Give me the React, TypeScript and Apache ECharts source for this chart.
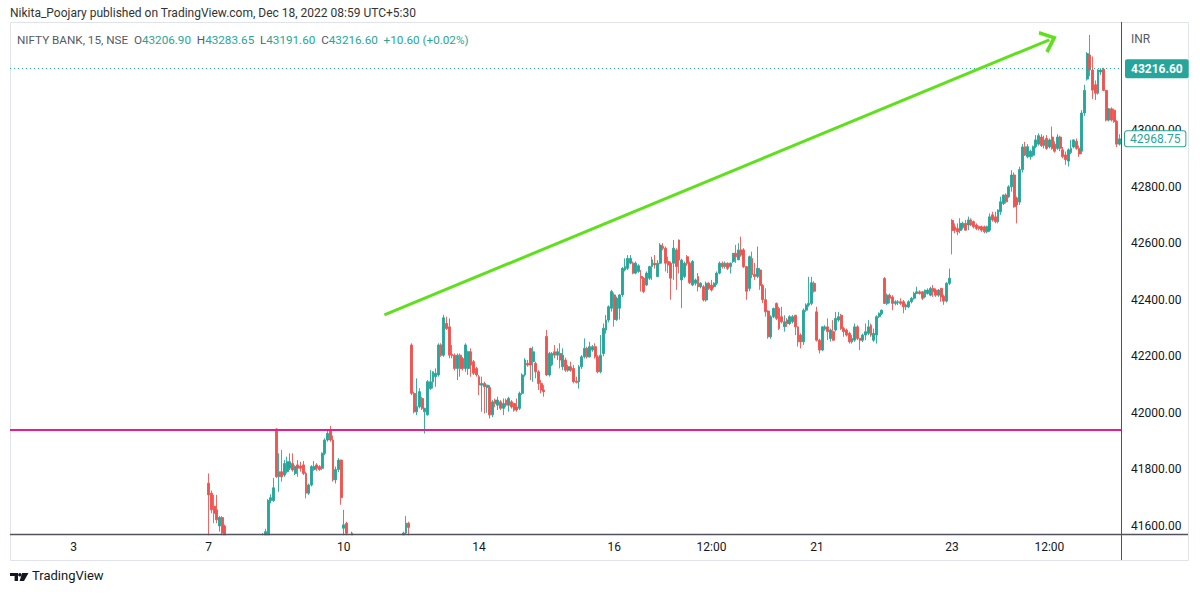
import React, { useEffect, useRef } from "react";
import * as echarts from "echarts";

type K = [number, number, number, number] | null; // [open, close, low, high]

// trading days shown on the axis (Nov 2022) and the 15-minute session slots
const tradingDays = ["2", "3", "4", "7", "9", "10", "11", "14", "15", "16", "17", "18", "21", "22", "23", "24", "25"];
const sessionSlots = ["09:15", "09:30", "09:45", "10:00", "10:15", "10:30", "10:45", "11:00", "11:15", "11:30", "11:45", "12:00", "12:15", "12:30", "12:45", "13:00", "13:15", "13:30", "13:45", "14:00", "14:15", "14:30", "14:45", "15:00", "15:15"];
const firstSlot = 2;
const slotCount = 411;
const tickMarks = ["3 09:15", "7 09:15", "10 09:15", "14 09:15", "16 09:15", "17 12:00", "21 09:15", "23 09:15", "24 12:00"];
const priceTicks = [41600, 41800, 42000, 42200, 42400, 42600, 42800, 43000];

// candles below the visible price range are null
const nov02: K[] = [];
const nov03: K[] = [];
const nov04: K[] = [];
const nov07: K[] = [
  [41751, 41710, 41560, 41786], [41716, 41657, 41645, 41725], [41670, 41645, 41610, 41710], [41657, 41622, 41610, 41710],
  [41600, 41630, 41580, 41635], [41630, 41575, 41550, 41635], [41600, 41565, 41540, 41605],
  null, null, null, null, null, null, null, null, null, null, null, null, null,
  [41530, 41560, 41500, 41575], [41540, 41580, 41520, 41590], [41560, 41690, 41540, 41695], [41690, 41700, 41680, 41712],
  [41690, 41735, 41685, 41770],
];
const nov09: K[] = [
  [41943, 41774, 41770, 41945], [41774, 41792, 41721, 41857], [41792, 41774, 41757, 41869], [41780, 41821, 41774, 41833],
  [41792, 41827, 41786, 41845], [41804, 41827, 41798, 41857], [41821, 41798, 41792, 41857], [41786, 41810, 41780, 41815],
  [41816, 41804, 41774, 41833], [41812, 41804, 41792, 41827], [41816, 41786, 41780, 41830], [41786, 41716, 41698, 41792],
  [41716, 41745, 41710, 41750], [41745, 41810, 41740, 41815], [41800, 41810, 41795, 41830], [41816, 41804, 41795, 41822],
  [41810, 41800, 41795, 41815], [41804, 41857, 41798, 41860], [41857, 41904, 41850, 41910], [41904, 41927, 41898, 41940],
  [41940, 41904, 41898, 41954], [41904, 41763, 41757, 41920], [41763, 41800, 41750, 41810], [41800, 41833, 41790, 41840],
  [41833, 41700, 41675, 41835],
];
const nov10: K[] = [
  [41592, 41604, 41560, 41657], [41610, 41574, 41540, 41615], null, [41560, 41575, 41540, 41580],
  null, null, null, null, null, null, null, null, null, null, null, null, null, null, null, null, null, null,
  [41540, 41575, 41530, 41580], [41575, 41610, 41570, 41635], [41610, 41595, 41560, 41615],
];
const nov11: K[] = [
  [42240, 42069, 42063, 42246], [42069, 42004, 41998, 42075], [42004, 42022, 41992, 42122], [42022, 42075, 42016, 42087],
  [42051, 42016, 42010, 42057], [42004, 42016, 41927, 42018], [41993, 42110, 41990, 42116], [42086, 42110, 42081, 42151],
  [42110, 42145, 42086, 42147], [42128, 42140, 42092, 42157], [42134, 42240, 42128, 42246], [42240, 42204, 42198, 42246],
  [42204, 42336, 42198, 42346], [42316, 42298, 42293, 42340], [42304, 42204, 42193, 42334], [42207, 42202, 42193, 42240],
  [42204, 42157, 42150, 42210], [42157, 42204, 42116, 42210], [42204, 42157, 42128, 42210], [42192, 42157, 42150, 42198],
  [42157, 42240, 42145, 42246], [42157, 42216, 42134, 42220], [42216, 42169, 42128, 42228], [42181, 42140, 42134, 42187],
  [42157, 42134, 42128, 42163],
];
const nov14: K[] = [
  [42128, 42098, 42063, 42134], [42098, 42104, 42004, 42128], [42104, 42092, 41998, 42110], [42090, 42098, 42000, 42100],
  [42090, 41993, 41980, 42098], [41993, 42039, 41985, 42045], [42045, 42033, 42020, 42050], [42027, 42045, 42010, 42057],
  [42039, 42016, 42010, 42045], [42016, 42033, 41992, 42051], [42045, 42027, 42020, 42050], [42027, 42051, 42004, 42057],
  [42039, 42021, 42015, 42045], [42033, 42010, 42004, 42036], [42021, 42010, 42004, 42051], [42016, 42069, 42010, 42075],
  [42069, 42134, 42063, 42140], [42134, 42187, 42128, 42193], [42175, 42169, 42163, 42187], [42228, 42169, 42116, 42230],
  [42181, 42216, 42110, 42234], [42175, 42145, 42122, 42181], [42145, 42104, 42081, 42151], [42104, 42081, 42069, 42116],
  [42081, 42075, 42057, 42098],
];
const nov15: K[] = [
  [42270, 42134, 42130, 42293], [42134, 42210, 42128, 42216], [42170, 42210, 42165, 42215], [42216, 42204, 42193, 42240],
  [42204, 42216, 42187, 42228], [42210, 42187, 42157, 42246], [42163, 42204, 42151, 42228], [42187, 42151, 42145, 42195],
  [42151, 42163, 42145, 42170], [42163, 42151, 42145, 42181], [42157, 42110, 42104, 42169], [42112, 42108, 42104, 42128],
  [42110, 42163, 42086, 42169], [42163, 42198, 42155, 42204], [42198, 42228, 42192, 42263], [42228, 42198, 42192, 42234],
  [42198, 42234, 42196, 42251], [42222, 42234, 42216, 42240], [42234, 42198, 42192, 42246], [42198, 42145, 42140, 42204],
  [42145, 42204, 42140, 42275], [42210, 42299, 42200, 42316], [42293, 42328, 42280, 42346], [42328, 42375, 42320, 42380],
  [42370, 42429, 42358, 42435],
];
const nov16: K[] = [
  [42417, 42330, 42305, 42425], [42330, 42405, 42325, 42411], [42370, 42417, 42330, 42420], [42417, 42511, 42410, 42515],
  [42505, 42517, 42500, 42546], [42511, 42546, 42505, 42558], [42529, 42546, 42525, 42558], [42529, 42494, 42490, 42535],
  [42494, 42529, 42490, 42535], [42500, 42520, 42495, 42525], [42482, 42476, 42429, 42505], [42476, 42429, 42423, 42480],
  [42452, 42494, 42448, 42500], [42476, 42517, 42470, 42520], [42517, 42541, 42470, 42552], [42529, 42523, 42510, 42558],
  [42482, 42529, 42480, 42540], [42529, 42593, 42525, 42600], [42588, 42582, 42575, 42600], [42582, 42529, 42500, 42588],
  [42535, 42523, 42494, 42552], [42529, 42476, 42400, 42535], [42529, 42582, 42470, 42611], [42576, 42517, 42435, 42582],
  [42611, 42540, 42493, 42613],
];
const nov17: K[] = [
  [42470, 42540, 42370, 42545], [42482, 42529, 42476, 42535], [42552, 42529, 42520, 42558], [42529, 42460, 42455, 42535],
  [42452, 42535, 42448, 42540], [42458, 42470, 42450, 42475], [42482, 42446, 42429, 42494], [42446, 42458, 42440, 42462],
  [42446, 42399, 42394, 42452], [42399, 42458, 42393, 42464], [42458, 42440, 42435, 42462], [42452, 42434, 42429, 42470],
  [42446, 42458, 42440, 42462], [42458, 42494, 42452, 42500], [42494, 42529, 42490, 42535], [42529, 42517, 42510, 42535],
  [42517, 42529, 42510, 42535], [42529, 42511, 42505, 42532], [42517, 42529, 42493, 42532], [42535, 42564, 42530, 42565],
  [42564, 42552, 42530, 42594], [42541, 42576, 42540, 42600], [42576, 42558, 42552, 42623], [42576, 42517, 42512, 42582],
  [42517, 42430, 42400, 42519],
];
const nov18: K[] = [
  [42440, 42552, 42430, 42556], [42546, 42488, 42476, 42570], [42490, 42482, 42470, 42530], [42482, 42511, 42476, 42588],
  [42505, 42450, 42435, 42512], [42450, 42400, 42388, 42455], [42400, 42357, 42340, 42440], [42360, 42269, 42262, 42363],
  [42269, 42340, 42262, 42345], [42340, 42369, 42335, 42372], [42387, 42334, 42328, 42390], [42369, 42298, 42293, 42375],
  [42340, 42322, 42316, 42375], [42304, 42322, 42287, 42345], [42328, 42316, 42304, 42335], [42316, 42340, 42310, 42345],
  [42322, 42340, 42316, 42346], [42345, 42304, 42275, 42346], [42304, 42251, 42234, 42306], [42275, 42251, 42228, 42281],
  [42251, 42363, 42240, 42369], [42363, 42381, 42357, 42387], [42381, 42387, 42375, 42481], [42387, 42460, 42380, 42481],
  [42458, 42430, 42425, 42465],
];
const nov21: K[] = [
  [42357, 42257, 42252, 42375], [42257, 42222, 42210, 42262], [42222, 42304, 42218, 42306], [42296, 42304, 42290, 42310],
  [42304, 42287, 42257, 42334], [42263, 42293, 42252, 42298], [42287, 42257, 42255, 42328], [42293, 42334, 42287, 42357],
  [42328, 42340, 42322, 42357], [42345, 42298, 42293, 42350], [42298, 42287, 42269, 42304], [42293, 42275, 42270, 42298],
  [42281, 42251, 42245, 42287], [42251, 42263, 42245, 42275], [42257, 42304, 42251, 42316], [42304, 42263, 42257, 42310],
  [42263, 42257, 42222, 42265], [42257, 42275, 42250, 42280], [42275, 42287, 42257, 42316], [42281, 42304, 42275, 42328],
  [42310, 42275, 42269, 42316], [42257, 42281, 42251, 42298], [42275, 42340, 42245, 42345], [42340, 42352, 42335, 42355],
  [42350, 42363, 42345, 42365],
];
const nov22: K[] = [
  [42475, 42387, 42385, 42480], [42387, 42416, 42381, 42422], [42416, 42405, 42387, 42422], [42410, 42387, 42363, 42416],
  [42387, 42393, 42380, 42398], [42390, 42393, 42381, 42399], [42393, 42387, 42381, 42405], [42393, 42375, 42352, 42399],
  [42375, 42381, 42363, 42387], [42375, 42393, 42370, 42398], [42393, 42405, 42387, 42410], [42405, 42422, 42400, 42428],
  [42422, 42428, 42420, 42446], [42428, 42422, 42418, 42433], [42428, 42405, 42399, 42430], [42410, 42434, 42405, 42436],
  [42422, 42434, 42418, 42440], [42416, 42440, 42412, 42446], [42440, 42428, 42410, 42452], [42434, 42416, 42410, 42440],
  [42416, 42434, 42410, 42438], [42440, 42410, 42393, 42442], [42412, 42395, 42382, 42418], [42395, 42458, 42390, 42462],
  [42458, 42476, 42452, 42510],
];
const nov23: K[] = [
  [42680, 42645, 42560, 42685], [42658, 42646, 42635, 42670], [42652, 42640, 42628, 42670], [42645, 42670, 42635, 42688],
  [42655, 42670, 42648, 42676], [42670, 42646, 42645, 42682], [42664, 42682, 42646, 42694], [42682, 42664, 42660, 42688],
  [42676, 42658, 42652, 42680], [42664, 42652, 42646, 42670], [42658, 42652, 42645, 42662], [42658, 42646, 42640, 42662],
  [42658, 42640, 42635, 42662], [42640, 42658, 42635, 42662], [42646, 42693, 42640, 42705], [42700, 42682, 42676, 42711],
  [42693, 42676, 42670, 42711], [42676, 42717, 42670, 42720], [42711, 42746, 42700, 42764], [42740, 42770, 42735, 42772],
  [42770, 42746, 42740, 42776], [42764, 42799, 42760, 42805], [42799, 42841, 42782, 42858], [42841, 42729, 42725, 42850],
  [42760, 42735, 42670, 42765],
];
const nov24: K[] = [
  [42745, 42860, 42735, 42870], [42860, 42940, 42850, 42950], [42941, 42911, 42908, 42958], [42905, 42941, 42900, 42950],
  [42905, 42925, 42895, 42930], [42911, 42941, 42905, 42945], [42941, 42965, 42935, 42982], [42950, 42980, 42945, 42988],
  [42975, 42945, 42940, 42985], [42945, 42965, 42935, 42980], [42970, 42935, 42930, 42982], [42940, 42965, 42935, 42970],
  [42975, 42935, 42930, 43012], [42950, 42925, 42920, 42960], [42935, 42975, 42930, 42985], [42975, 42935, 42925, 42980],
  [42930, 42906, 42900, 42940], [42912, 42895, 42877, 42924], [42890, 42930, 42871, 42935], [42920, 42935, 42915, 42965],
  [42940, 42965, 42935, 42967], [42960, 42935, 42930, 42970], [42935, 42915, 42905, 42945], [42925, 43060, 42915, 43070],
  [43060, 43140, 43050, 43160],
];
const nov25: K[] = [
  [43180, 43270, 43175, 43275], [43265, 43212, 43190, 43336], [43212, 43141, 43110, 43260], [43160, 43130, 43106, 43175],
  [43130, 43212, 43125, 43215], [43205, 43212, 43195, 43218], [43215, 43140, 43138, 43220], [43140, 43035, 43030, 43142],
  [43035, 43075, 43030, 43078], [43075, 43035, 43030, 43080], [43070, 43030, 43025, 43075], [43030, 42950, 42940, 43035],
  [42950, 42968.75, 42945, 42985],
];
const dayCandles: K[][] = [nov02, nov03, nov04, nov07, nov09, nov10, nov11, nov14, nov15, nov16, nov17, nov18, nov21, nov22, nov23, nov24, nov25];

// annotations
const supportLevel = 41940;
const lastPrice = 43216.6;
const lastVisibleClose = 42968.75;
const trendStart: [number, number] = [137.5, 42346];
const trendEnd: [number, number] = [383.9, 43319];
const legendValues = { o: "43206.90", h: "43283.65", l: "43191.60", c: "43216.60", chg: "+10.60 (+0.02%)" };

const UP = "#26a69a";
const DOWN = "#ef5350";
const FONT = "Roboto, 'Liberation Sans', sans-serif";

echarts.graphic.registerShape(
  "tvlogo",
  echarts.graphic.extendPath(
    "M0,0 H8 V8 H4.6 V3 H0 Z M12.2,0 H18.5 L14,8 H9.6 Z",
    {}
  )
);

export default function App() {
  const ref = useRef<HTMLDivElement>(null);
  useEffect(() => {
    if (!ref.current) return;
    const chart = echarts.init(ref.current, undefined, { renderer: "svg" });

    const allCats: string[] = [];
    const allData: any[] = [];
    tradingDays.forEach((d, di) => {
      sessionSlots.forEach((t, si) => {
        allCats.push(`${d} ${t}`);
        const c = dayCandles[di][si];
        allData.push(c ? c : "-");
      });
    });
    const categories = allCats.slice(firstSlot, firstSlot + slotCount);
    const data = allData.slice(firstSlot, firstSlot + slotCount);

    const chevron = "path://M10,0 L20,13 L17.4,15 L10,5.2 L2.6,15 L0,13 Z";

    chart.setOption({
      animation: false,
      backgroundColor: "#ffffff",
      grid: { left: 10, right: 79, top: 22, bottom: 61, containLabel: false },
      xAxis: {
        type: "category",
        data: categories,
        boundaryGap: true,
        z: 60,
        axisLine: { show: false },
        axisTick: { show: false },
        splitLine: { show: false },
        axisLabel: {
          interval: (_i: number, v: string) => tickMarks.indexOf(v) >= 0,
          formatter: (v: string) => (v.endsWith("09:15") ? v.split(" ")[0] : v.split(" ")[1]),
          color: "#131722",
          fontSize: 12,
          fontFamily: FONT,
          margin: 7,
        },
      },
      yAxis: {
        type: "value",
        position: "right",
        min: 41571.7,
        max: 43381.8,
        scale: true,
        z: 60,
        axisLine: { show: false },
        axisTick: { show: false },
        splitLine: { show: false },
        axisLabel: {
          customValues: priceTicks,
          formatter: (v: number) => v.toFixed(2),
          color: "#131722",
          fontSize: 12,
          fontFamily: FONT,
          margin: 10,
        },
      },
      series: [
        {
          type: "candlestick",
          data,
          clip: true,
          barWidth: 2.4,
          z: 2,
          itemStyle: { color: UP, color0: DOWN, borderColor: UP, borderColor0: DOWN, borderWidth: 0.9 },
          markLine: {
            silent: true,
            symbol: ["none", "none"],
            animation: false,
            z: 70,
            data: [
              {
                yAxis: supportLevel,
                lineStyle: { color: "#e91e8c", width: 2, type: "solid" },
                label: { show: false },
              },
              {
                yAxis: lastPrice,
                lineStyle: { color: UP, width: 1, type: [1, 3] },
                label: {
                  show: true,
                  position: "end",
                  formatter: "43216.60",
                  distance: 4,
                  backgroundColor: UP,
                  color: "#ffffff",
                  fontSize: 12,
                  fontWeight: "bold",
                  fontFamily: FONT,
                  padding: [4, 6, 3, 6],
                  borderRadius: 2,
                },
              },
              {
                yAxis: lastVisibleClose,
                lineStyle: { color: "rgba(0,0,0,0)", width: 0 },
                label: {
                  show: true,
                  position: "end",
                  formatter: "42968.75",
                  distance: 4,
                  backgroundColor: "#ffffff",
                  borderColor: UP,
                  borderWidth: 1,
                  color: UP,
                  fontSize: 12,
                  fontFamily: FONT,
                  padding: [2, 5, 1, 5],
                  borderRadius: 2,
                },
              },
              [
                { coord: trendStart, symbol: "none" },
                {
                  coord: trendEnd,
                  symbol: chevron,
                  symbolSize: [24, 16],
                  lineStyle: { color: "#5fe01c", width: 3, type: "solid" },
                  label: { show: false },
                },
              ],
            ],
          },
        },
      ],
      graphic: [
        {
          type: "rect",
          z: 50,
          shape: { x: 10, y: 535.3, width: 1111, height: 24 },
          style: { fill: "#ffffff" },
        },
        {
          type: "rect",
          z: 51,
          shape: { x: 10.5, y: 22.5, width: 1178, height: 538 },
          style: { fill: "none", stroke: "#e0e3eb", lineWidth: 1 },
        },
        {
          type: "line",
          z: 55,
          shape: { x1: 10, y1: 534.5, x2: 1188, y2: 534.5 },
          style: { stroke: "#50535e", lineWidth: 1.5 },
        },
        {
          type: "line",
          z: 55,
          shape: { x1: 1121.5, y1: 22, x2: 1121.5, y2: 560 },
          style: { stroke: "#50535e", lineWidth: 1 },
        },
        {
          type: "text",
          left: 10,
          top: 7,
          style: {
            text: "Nikita_Poojary published on TradingView.com, Dec 18, 2022 08:59 UTC+5:30",
            fill: "#333333",
            font: `12px ${FONT}`,
          },
        },
        {
          type: "text",
          left: 17,
          top: 34,
          style: {
            text: `{g|NIFTY BANK, 15, NSE}  {g|O}{v|${legendValues.o}}  {g|H}{v|${legendValues.h}}  {g|L}{v|${legendValues.l}}  {g|C}{v|${legendValues.c}}  {v|${legendValues.chg}}`,
            font: `11.7px ${FONT}`,
            rich: {
              g: { fill: "#555a66", fontSize: 11.7, fontFamily: FONT },
              v: { fill: UP, fontSize: 11.7, fontFamily: FONT },
            },
          },
        },
        {
          type: "text",
          left: 1131,
          top: 33,
          style: { text: "INR", fill: "#555a66", font: `12px ${FONT}` },
        },
        {
          type: "tvlogo",
          x: 10,
          y: 573,
          scaleX: 1,
          scaleY: 1,
          style: { fill: "#131722" },
        },
        {
          type: "circle",
          shape: { cx: 19.9, cy: 574.7, r: 1.8 },
          style: { fill: "#131722" },
        },
        {
          type: "text",
          left: 32,
          top: 569,
          style: { text: "TradingView", fill: "#131722", font: `13px ${FONT}` },
        },
      ],
    });
    return () => chart.dispose();
  }, []);
  return (
    <div
      ref={ref}
      style={{ position: "fixed", left: 0, top: 0, width: 1200, height: 595, background: "#ffffff" }}
    />
  );
}
